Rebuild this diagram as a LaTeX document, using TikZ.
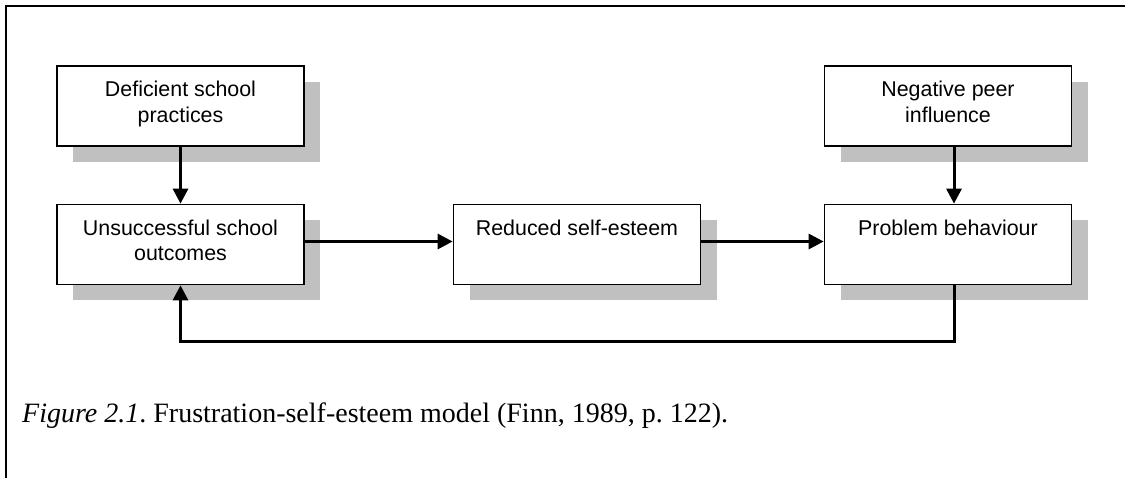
\documentclass[tikz,border=0pt]{standalone}
\usepackage{fontspec}
\setmainfont{Liberation Serif}
\newfontfamily\boxfont{Liberation Sans}
\usetikzlibrary{arrows.meta,shadows}
\frenchspacing
\definecolor{shadowgray}{HTML}{C0C0C0}
\tikzset{
  box/.style={draw, line width=1.7pt, fill=white, minimum width=247pt,
    minimum height=80pt, inner sep=0pt,
    general shadow={fill=shadowgray, shadow xshift=16pt, shadow yshift=-16pt}},
  boxtext/.style={font=\boxfont\fontsize{21.4}{25.5}\selectfont, align=center,
    inner sep=0pt, anchor=north},
  conn/.style={line width=3pt, -{Triangle[length=15pt,width=15pt]}},
  caption/.style={font=\fontsize{28}{32}\selectfont, inner sep=0pt, anchor=base west}
}
\begin{document}
\begin{tikzpicture}[x=1pt,y=-1pt]
  \useasboundingbox (0,0) rectangle (1125,478);
  % frame
  \draw[line width=2pt] (1125,6) -- (6,6) -- (6,478);

  % boxes
  \node[box] (def) at (180.5,106) {};
  \node[box] (uns) at (180.5,244.5) {};
  \node[box] (red) at (577,244.5) {};
  \node[box] (neg) at (948,106) {};
  \node[box] (pro) at (948,244.5) {};

  % box texts
  \node[boxtext] (tdef) at ([yshift=-16pt]def.north) {Deficient school\\practices};
  \node[boxtext] (tuns) at ([yshift=-16pt]uns.north) {Unsuccessful school\\outcomes};
  \node[boxtext] (tred) at ([yshift=-16pt]red.north) {Reduced self-esteem};
  \node[boxtext] (tneg) at ([yshift=-16pt]neg.north) {Negative peer\\influence};
  \node[boxtext] (tpro) at ([yshift=-16pt]pro.north) {Problem behaviour};

  % connectors
  \draw[conn] (def.south) -- (uns.north);
  \draw[conn] ([yshift=3pt]uns.east) -- ([yshift=3pt]red.west);
  \draw[conn] ([yshift=3pt]red.east) -- ([yshift=3pt]pro.west);
  \draw[conn] ([xshift=6pt]neg.south) -- ([xshift=6pt]pro.north);
  \coordinate (loop) at ([xshift=6pt]pro.south |- 0,341.7);
  \draw[conn] ([xshift=6pt]pro.south) -- (loop) -| (uns.south);

  % caption
  \node[caption] (cap) at (22,422) {\textit{Figure 2.1}. Frustration-self-esteem model (Finn, 1989, p. 122).};
\end{tikzpicture}
\end{document}
